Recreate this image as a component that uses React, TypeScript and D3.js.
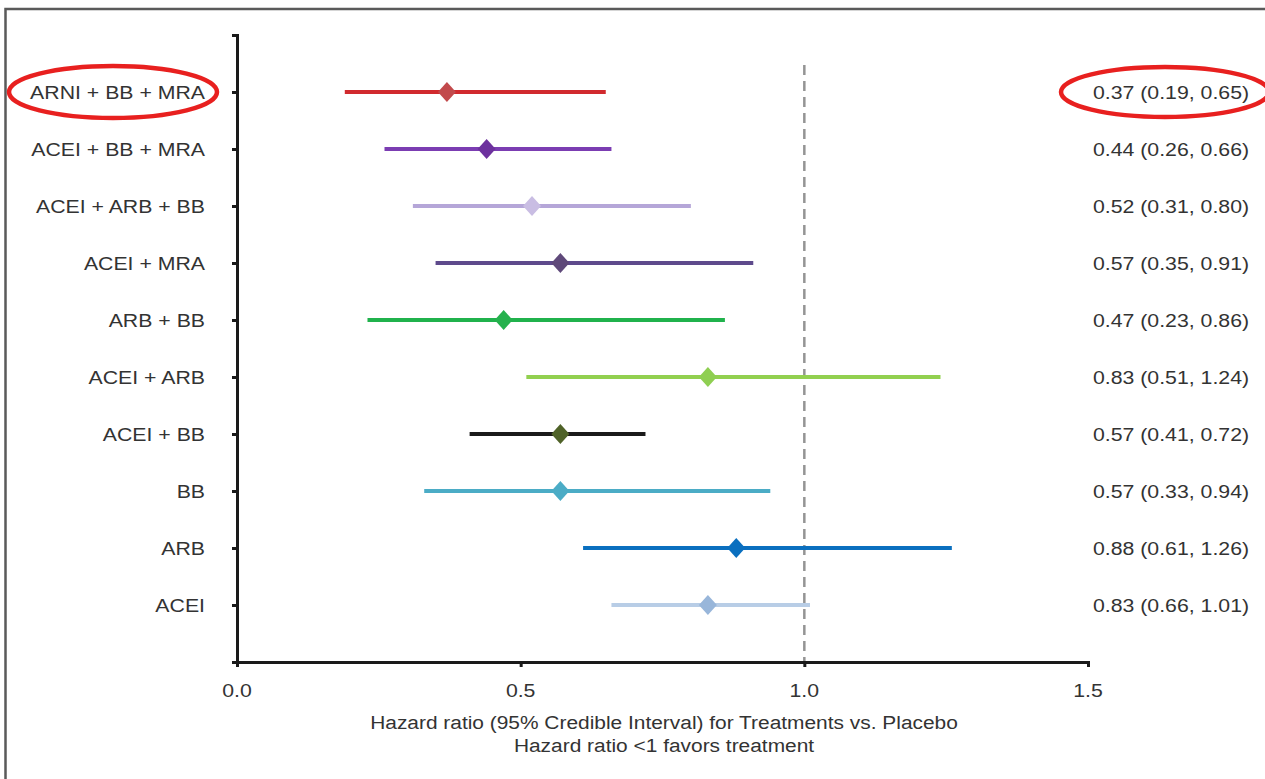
import * as d3 from "d3";
import { useEffect, useRef } from "react";

const treatments = [
  "ARNI + BB + MRA",
  "ACEI + BB + MRA",
  "ACEI + ARB + BB",
  "ACEI + MRA",
  "ARB + BB",
  "ACEI + ARB",
  "ACEI + BB",
  "BB",
  "ARB",
  "ACEI",
];
const hazardRatio = [0.37, 0.44, 0.52, 0.57, 0.47, 0.83, 0.57, 0.57, 0.88, 0.83];
const lowerCI = [0.19, 0.26, 0.31, 0.35, 0.23, 0.51, 0.41, 0.33, 0.61, 0.66];
const upperCI = [0.65, 0.66, 0.8, 0.91, 0.86, 1.24, 0.72, 0.94, 1.26, 1.01];
const xTicks = [0, 0.5, 1.0, 1.5];

const lineColors = ["#d12a2e", "#7b3db2", "#b5a6d8", "#5e4a8c", "#20b24c", "#92d050", "#1a1a1a", "#4bacc6", "#0a6fbf", "#b8cde6"];
const diamondColors = ["#c24a4c", "#6d319e", "#c9bde3", "#5f497a", "#25b14d", "#8fcf52", "#4f6228", "#4bacc6", "#0a6fbf", "#98b6da"];

export default function App() {
  const svgRef = useRef(null);

  const W = 1265;
  const H = 779;

  useEffect(() => {
    const svg = d3.select(svgRef.current);
    svg.selectAll("*").remove();

    const x = d3.scaleLinear([0, 1.5], [237, 1088]);
    const y = d3.scalePoint(treatments, [35, 662]).padding(1);
    const sx = 1.12; // text in the picture is slightly stretched
    const txtColor = "#333";
    const font = "'Liberation Sans', Arial, sans-serif";

    // frame
    svg.append("path")
      .attr("d", `M5.5,${H} V9 H${W}`)
      .attr("fill", "none")
      .attr("stroke", "#5a5a5a")
      .attr("stroke-width", 2.5);

    // reference line at HR = 1
    svg.append("line")
      .attr("x1", x(1)).attr("x2", x(1))
      .attr("y1", 65).attr("y2", 661)
      .attr("stroke", "#949494")
      .attr("stroke-width", 2.5)
      .attr("stroke-dasharray", "10,6");

    // axes
    const yAxis = svg.append("g")
      .attr("transform", `translate(${x(0)},0)`)
      .call(d3.axisLeft(y).tickSize(5).tickSizeOuter(5).tickFormat(() => ""));
    const xAxis = svg.append("g")
      .attr("transform", `translate(0,${y.range()[1]})`)
      .call(d3.axisBottom(x).tickValues(xTicks).tickSize(5).tickSizeOuter(5).tickFormat(() => ""));
    ;[yAxis, xAxis].forEach(a => {
      a.selectAll("path, line").attr("stroke", "#1a1a1a").attr("stroke-width", 3);
    });

    // x tick labels
    svg.selectAll(".xlab")
      .data(xTicks)
      .join("text")
      .attr("transform", d => `translate(${x(d)},697) scale(${sx},1)`)
      .attr("text-anchor", "middle")
      .attr("font-family", font)
      .attr("font-size", 19)
      .attr("fill", txtColor)
      .text(d => d3.format(".1f")(d));

    // axis title
    svg.selectAll(".title")
      .data(["Hazard ratio (95% Credible Interval) for Treatments vs. Placebo", "Hazard ratio <1 favors treatment"])
      .join("text")
      .attr("transform", (d, i) => `translate(664,${729 + i * 23}) scale(1.1,1)`)
      .attr("text-anchor", "middle")
      .attr("font-family", font)
      .attr("font-size", 19)
      .attr("fill", txtColor)
      .text(d => d);

    const rows = treatments.map((t, i) => ({ t, hr: hazardRatio[i], lo: lowerCI[i], hi: upperCI[i], i }));

    // row labels
    svg.selectAll(".rowlab")
      .data(rows)
      .join("text")
      .attr("transform", d => `translate(205,${y(d.t) + 7}) scale(${sx},1)`)
      .attr("text-anchor", "end")
      .attr("font-family", font)
      .attr("font-size", 19)
      .attr("fill", txtColor)
      .text(d => d.t);

    // value labels
    const f = d3.format(".2f");
    svg.selectAll(".vallab")
      .data(rows)
      .join("text")
      .attr("transform", d => `translate(1093,${y(d.t) + 7}) scale(${sx},1)`)
      .attr("font-family", font)
      .attr("font-size", 19)
      .attr("fill", txtColor)
      .text(d => `${f(d.hr)} (${f(d.lo)}, ${f(d.hi)})`);

    // credible intervals
    svg.selectAll(".ci")
      .data(rows)
      .join("line")
      .attr("x1", d => x(d.lo)).attr("x2", d => x(d.hi))
      .attr("y1", d => y(d.t)).attr("y2", d => y(d.t))
      .attr("stroke", d => lineColors[d.i])
      .attr("stroke-width", 4);

    // point estimates
    const diamond = (cx, cy) => {
      const p = d3.path();
      p.moveTo(cx, cy - 10);
      p.lineTo(cx + 9, cy);
      p.lineTo(cx, cy + 10);
      p.lineTo(cx - 9, cy);
      p.closePath();
      return p.toString();
    };
    svg.selectAll(".pt")
      .data(rows)
      .join("path")
      .attr("d", d => diamond(x(d.hr), y(d.t)))
      .attr("fill", d => diamondColors[d.i]);

    // highlight ellipses
    svg.append("ellipse")
      .attr("cx", 113).attr("cy", y(treatments[0]))
      .attr("rx", 104).attr("ry", 26)
      .attr("fill", "none").attr("stroke", "#e8201f").attr("stroke-width", 4.5);
    svg.append("ellipse")
      .attr("cx", 1165).attr("cy", y(treatments[0]))
      .attr("rx", 104).attr("ry", 25)
      .attr("fill", "none").attr("stroke", "#e8201f").attr("stroke-width", 4.5);
  }, []);

  return (
    <svg
      ref={svgRef}
      width={W}
      height={H}
      style={{ position: "absolute", left: 0, top: 0, background: "#fff" }}
      xmlns="http://www.w3.org/2000/svg"
    />
  );
}
